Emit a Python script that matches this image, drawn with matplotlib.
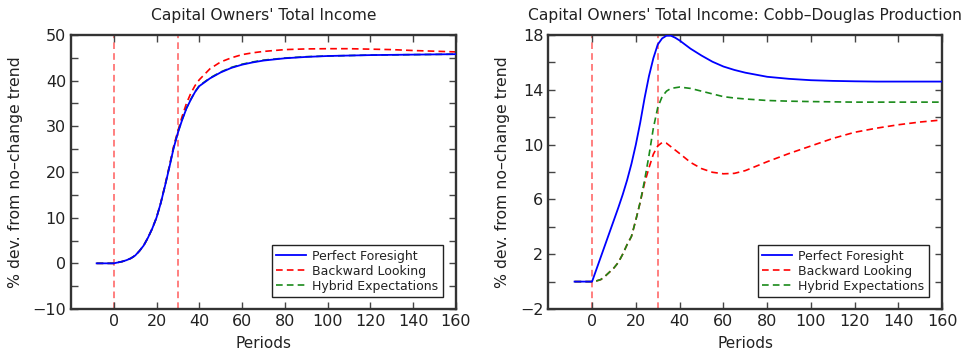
import numpy as np
import matplotlib
matplotlib.use('Agg')
import matplotlib.pyplot as plt
from matplotlib.ticker import MultipleLocator

plt.rcParams['font.family'] = 'DejaVu Sans'
plt.rcParams['font.size'] = 10

# periods at which the paths were sampled
periods = [-8, 0, 2, 4, 6, 8, 10, 12, 14, 16, 18, 20, 22, 24, 26, 28, 30, 32, 34, 36, 38, 40,
           45, 50, 55, 60, 65, 70, 80, 90, 100, 110, 120, 130, 140, 150, 160]

# left panel: total income, % dev. from no-change trend
total_pf = [0, 0, 0.2, 0.4, 0.7, 1.1, 1.7, 2.7, 3.9, 5.6, 7.6, 10.0, 13.2, 17.0, 21.0, 25.2, 28.6,
            31.4, 33.9, 35.8, 37.5, 38.8, 40.5, 41.8, 42.8, 43.5, 44.0, 44.4, 44.9, 45.2, 45.4,
            45.5, 45.6, 45.65, 45.7, 45.75, 45.8]
total_bl = [0, 0, 0.2, 0.4, 0.7, 1.1, 1.7, 2.7, 3.9, 5.6, 7.6, 10.0, 13.3, 17.2, 21.3, 25.6, 29.0,
            32.2, 35.0, 37.2, 38.9, 40.2, 42.6, 44.1, 45.0, 45.7, 46.1, 46.4, 46.8, 46.95, 47.0,
            47.0, 46.9, 46.8, 46.6, 46.45, 46.3]
total_hy = [0, 0, 0.2, 0.4, 0.7, 1.1, 1.7, 2.7, 3.9, 5.6, 7.6, 10.0, 13.2, 17.0, 21.1, 25.3, 28.7,
            31.5, 34.0, 35.9, 37.6, 38.9, 40.6, 41.9, 42.9, 43.6, 44.1, 44.5, 44.95, 45.25, 45.4,
            45.5, 45.6, 45.65, 45.7, 45.75, 45.8]

# right panel: Cobb-Douglas production
cd_pf = [0, 0, 0.9, 1.8, 2.7, 3.6, 4.5, 5.4, 6.35, 7.4, 8.6, 10.0, 11.6, 13.4, 15.0, 16.3, 17.3,
         17.75, 17.95, 17.95, 17.8, 17.6, 17.0, 16.5, 16.05, 15.7, 15.45, 15.25, 14.95, 14.8,
         14.7, 14.65, 14.62, 14.6, 14.6, 14.6, 14.6]
cd_bl = [0, 0, 0.05, 0.15, 0.4, 0.7, 1.0, 1.4, 2.0, 2.7, 3.3, 4.5, 5.8, 7.2, 8.3, 9.3, 9.9,
         10.15, 10.1, 9.85, 9.6, 9.35, 8.7, 8.25, 7.98, 7.87, 7.9, 8.1, 8.75, 9.35, 9.9, 10.45,
         10.9, 11.2, 11.45, 11.65, 11.8]
cd_hy = [0, 0, 0.05, 0.15, 0.4, 0.7, 1.0, 1.4, 2.0, 2.7, 3.3, 4.5, 5.8, 7.4, 9.2, 11.2, 12.7,
         13.5, 13.9, 14.1, 14.15, 14.2, 14.1, 13.9, 13.7, 13.5, 13.4, 13.33, 13.22, 13.17, 13.14,
         13.12, 13.1, 13.1, 13.1, 13.1, 13.1]

shock_lines = [0, 30]
labels = ['Perfect Foresight', 'Backward Looking', 'Hybrid Expectations']

dash = (0, (4, 2.5))
txt = '#222222'

fig = plt.figure(figsize=(9.67, 3.56), dpi=100)
ax1 = fig.add_axes([0.0734, 0.132, 0.398, 0.7697])
ax2 = fig.add_axes([0.567, 0.132, 0.4074, 0.7697])


def draw(ax, pf, bl, hy, title, ylim, major, minor, first):
    for s in shock_lines:
        ax.axvline(s, color='#ff4444', ls=dash, lw=1.2, alpha=0.8, zorder=1)
    l1, = ax.plot(periods, pf, color='#0000ff', lw=1.3, zorder=3)
    l2, = ax.plot(periods, bl, color='#ff0000', lw=1.2, ls=dash, zorder=2)
    l3, = ax.plot(periods, hy, color='#1a8a1a', lw=1.2, ls=dash, zorder=2)
    ax.set_xlim(-20, 160)
    ax.set_ylim(*ylim)
    ax.set_xticks(np.arange(0, 161, 20))
    ax.yaxis.set_minor_locator(MultipleLocator(minor))
    ax.set_yticks(np.arange(first, ylim[1] + 0.01, major))
    ax.tick_params(which='both', direction='in', top=True, right=True, length=5,
                   width=1, colors='#444444', labelcolor=txt, labelsize=11.5)
    for sp in ax.spines.values():
        sp.set_linewidth(1.7)
        sp.set_color('#333333')
    ax.set_title(title, fontsize=11.2, color=txt, pad=11)
    ax.set_xlabel('Periods', fontsize=11, color=txt, labelpad=5)
    ax.set_ylabel('% dev. from no\u2013change trend', fontsize=11.3, color=txt, labelpad=7)
    leg = ax.legend([l1, l2, l3], labels, loc='lower right', fontsize=9, fancybox=False,
                    framealpha=1, edgecolor='#222222', handlelength=2.4, handletextpad=0.5,
                    bbox_to_anchor=(0.966, 0.044), borderpad=0.35, labelspacing=0.15,
                    borderaxespad=0)
    leg.get_frame().set_linewidth(1.0)
    for t in leg.get_texts():
        t.set_color(txt)


draw(ax1, total_pf, total_bl, total_hy, "Capital Owners' Total Income",
     (-10, 50), 10, 5, -10)
draw(ax2, cd_pf, cd_bl, cd_hy, "Capital Owners' Total Income: Cobb\u2013Douglas Production",
     (-2, 18), 4, 2, -2)

fig.savefig('out.png', dpi=100)
